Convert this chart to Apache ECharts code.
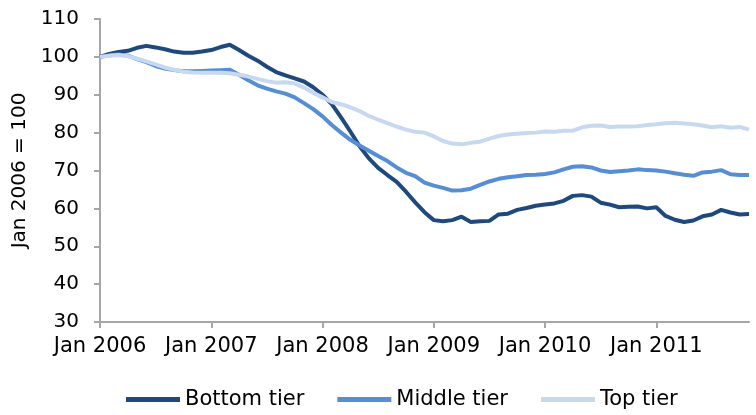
<!DOCTYPE html>
<html>
<head>
<meta charset="utf-8">
<script src="https://cdn.jsdelivr.net/npm/echarts@6/dist/echarts.min.js"></script>
<style>
  html, body { margin: 0; padding: 0; background: #fff; }
  #myChart { width: 756px; height: 415px; }
</style>
</head>
<body>
<div id="myChart"></div>
<script>
  // monthly index, Jan 2006 = 100, Jan 2006 .. Nov 2011
  const years = [2006, 2007, 2008, 2009, 2010, 2011];
  const monthNames = ['Jan', 'Feb', 'Mar', 'Apr', 'May', 'Jun', 'Jul', 'Aug', 'Sep', 'Oct', 'Nov', 'Dec'];

  const bottomTier = [
    100.0, 100.8, 101.3, 101.6, 102.4, 102.9, 102.5, 102.0, 101.4, 101.1, 101.1, 101.4,
    101.8, 102.6, 103.2, 101.8, 100.3, 99.0, 97.4, 96.0, 95.1, 94.3, 93.5, 92.0,
    90.0, 87.5, 84.0, 80.3, 76.4, 73.2, 70.7, 68.8, 67.0, 64.4, 61.6, 59.0,
    56.9, 56.6, 56.9, 57.8, 56.4, 56.6, 56.7, 58.4, 58.6, 59.6, 60.1, 60.7,
    61.0, 61.3, 62.0, 63.3, 63.5, 63.1, 61.5, 61.0, 60.3, 60.4, 60.5, 60.0,
    60.3, 58.0, 57.0, 56.4, 56.8, 57.9, 58.4, 59.6, 58.9, 58.4, 58.5
  ];
  const middleTier = [
    100.0, 100.4, 100.6, 100.3, 99.4, 98.6, 97.6, 96.9, 96.5, 96.2, 96.2, 96.3,
    96.4, 96.5, 96.6, 95.3, 93.8, 92.5, 91.6, 90.9, 90.3, 89.3, 87.8, 86.2,
    84.3, 82.0, 80.0, 78.1, 76.6, 75.2, 73.8, 72.5, 70.8, 69.4, 68.5, 66.8,
    66.0, 65.4, 64.7, 64.8, 65.2, 66.2, 67.1, 67.8, 68.2, 68.5, 68.8, 68.9,
    69.1, 69.5, 70.3, 71.0, 71.1, 70.8, 70.0, 69.6, 69.8, 70.0, 70.3, 70.1,
    70.0, 69.7, 69.3, 68.9, 68.6, 69.5, 69.7, 70.1, 69.0, 68.8, 68.8
  ];
  const topTier = [
    100.0, 100.3, 100.5, 100.2, 99.5, 98.8, 98.0, 97.2, 96.6, 96.1, 95.9, 95.8,
    95.8, 95.8, 95.7, 95.3, 94.8, 94.2, 93.6, 93.2, 93.3, 93.0, 91.9, 90.5,
    89.3, 88.1, 87.5, 86.7, 85.7, 84.4, 83.4, 82.5, 81.6, 80.8, 80.2, 80.0,
    79.0, 77.8, 77.1, 76.9, 77.3, 77.6, 78.4, 79.1, 79.5, 79.7, 79.9, 80.0,
    80.3, 80.2, 80.5, 80.5, 81.4, 81.8, 81.9, 81.5, 81.6, 81.6, 81.7, 82.0,
    82.2, 82.5, 82.6, 82.4, 82.2, 81.9, 81.4, 81.7, 81.3, 81.5, 80.8
  ];

  const months = [];
  years.forEach(y => monthNames.forEach(m => months.push(m + ' ' + y)));
  months.length = bottomTier.length;

  const font = 'DejaVu Sans, Verdana, sans-serif';
  const axisGrey = '#a6a6a6';

  let myChart = echarts.init(document.getElementById('myChart'));

  myChart.setOption({
    animation: false,
    color: ['#1f497d', '#558ed5', '#c6d9f1'],
    textStyle: { fontFamily: font, color: '#000' },
    grid: { left: 100, right: 7, top: 19, bottom: 93, containLabel: false },
    legend: {
      bottom: 0,
      left: 121,
      icon: 'rect',
      itemWidth: 54,
      itemHeight: 5,
      itemGap: 33,
      textStyle: { fontFamily: font, fontSize: 21, color: '#000' },
      data: ['Bottom tier', 'Middle tier', 'Top tier']
    },
    xAxis: {
      type: 'category',
      data: months,
      boundaryGap: false,
      axisLine: { lineStyle: { color: axisGrey, width: 2 } },
      axisTick: { interval: 11, length: 6, lineStyle: { color: axisGrey, width: 2 } },
      axisLabel: { interval: 11, margin: 14, fontSize: 21, color: '#000', fontFamily: font }
    },
    yAxis: {
      type: 'value',
      min: 30,
      max: 110,
      interval: 10,
      name: 'Jan 2006 = 100',
      nameLocation: 'middle',
      nameRotate: 90,
      nameGap: 70,
      nameTextStyle: { fontSize: 20, color: '#000', fontFamily: font },
      axisLine: { show: true, lineStyle: { color: axisGrey, width: 2 } },
      axisTick: { show: true, length: 6, lineStyle: { color: axisGrey, width: 2 } },
      splitLine: { show: false },
      axisLabel: { margin: 21, fontSize: 20, color: '#000', fontFamily: font }
    },
    series: [
      { name: 'Bottom tier', type: 'line', data: bottomTier, showSymbol: false, lineStyle: { width: 4 } },
      { name: 'Middle tier', type: 'line', data: middleTier, showSymbol: false, lineStyle: { width: 4 } },
      { name: 'Top tier', type: 'line', data: topTier, showSymbol: false, lineStyle: { width: 4 } }
    ]
  });
</script>
</body>
</html>
